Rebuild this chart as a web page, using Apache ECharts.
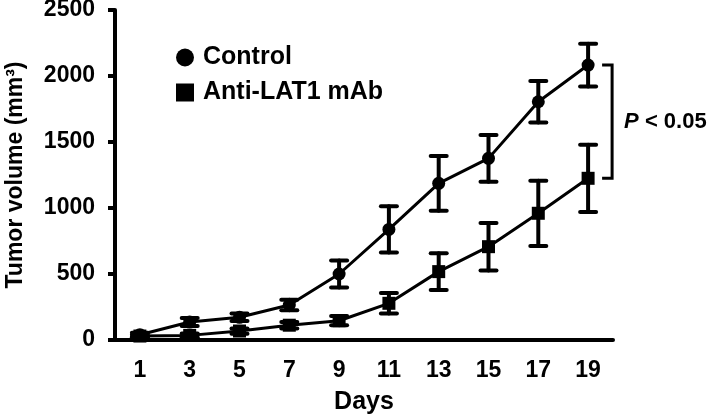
<!DOCTYPE html>
<html>
<head>
<meta charset="utf-8">
<script src="https://cdn.jsdelivr.net/npm/echarts@6/dist/echarts.min.js"></script>
<style>
html,body{margin:0;padding:0;background:#fff;}
#chart{width:709px;height:419px;}
</style>
</head>
<body>
<div id="chart"></div>
<script>
var days = ['1', '3', '5', '7', '9', '11', '13', '15', '17', '19'];
var controlMean = [40, 136, 172, 265, 500, 838, 1187, 1376, 1805, 2083];
var controlErr = [15, 30, 28, 40, 103, 175, 207, 177, 158, 162];
var antiMean = [30, 35, 68, 112, 146, 278, 518, 707, 960, 1225];
var antiErr = [10, 15, 20, 25, 35, 78, 139, 180, 247, 255];
var yTicks = [0, 500, 1000, 1500, 2000, 2500];

var FONT = '"Liberation Sans", Arial, Helvetica, sans-serif';

function errData(mean, err) {
  return mean.map(function (m, i) { return [i, m - err[i], m + err[i]]; });
}

function renderErr(params, api) {
  var lo = api.coord([api.value(0), api.value(1)]);
  var hi = api.coord([api.value(0), api.value(2)]);
  var half = 8;
  var st = { stroke: '#000', lineWidth: 4, lineCap: 'round' };
  return {
    type: 'group',
    children: [
      { type: 'line', shape: { x1: lo[0], y1: lo[1], x2: hi[0], y2: hi[1] }, style: st },
      { type: 'line', shape: { x1: lo[0] - half, y1: lo[1], x2: lo[0] + half, y2: lo[1] }, style: st },
      { type: 'line', shape: { x1: hi[0] - half, y1: hi[1], x2: hi[0] + half, y2: hi[1] }, style: st }
    ]
  };
}

var last = days.length - 1;

var chart = echarts.init(document.getElementById('chart'), null, { renderer: 'canvas' });
chart.setOption({
  animation: false,
  backgroundColor: '#fff',
  textStyle: { fontFamily: FONT },
  grid: { left: 115, right: 96, top: 10, bottom: 79, containLabel: false, outerBoundsMode: 'none' },
  legend: {
    orient: 'vertical',
    left: 171,
    top: 40,
    itemWidth: 18,
    itemHeight: 18,
    itemGap: 10,
    data: [
      { name: 'Control', icon: 'circle' },
      { name: 'Anti-LAT1 mAb', icon: 'rect' }
    ],
    textStyle: { fontSize: 25, fontWeight: 'bold', color: '#000', fontFamily: FONT, padding: [0, 0, 0, 4] }
  },
  xAxis: {
    type: 'category',
    data: days,
    boundaryGap: true,
    name: 'Days',
    nameLocation: 'middle',
    nameGap: 50,
    nameTextStyle: { fontSize: 25, fontWeight: 'bold', color: '#000', fontFamily: FONT },
    axisLine: { lineStyle: { color: '#000', width: 4 } },
    axisTick: { alignWithLabel: true, length: 8, lineStyle: { color: '#000', width: 4 } },
    axisLabel: { fontSize: 23, fontWeight: 'bold', color: '#000', margin: 19, fontFamily: FONT },
    splitLine: { show: false }
  },
  yAxis: {
    type: 'value',
    min: yTicks[0],
    max: yTicks[yTicks.length - 1],
    interval: yTicks[1] - yTicks[0],
    name: 'Tumor volume (mm\u00B3)',
    nameLocation: 'middle',
    nameGap: 88,
    nameTextStyle: { fontSize: 23, fontWeight: 'bold', color: '#000', fontFamily: FONT },
    axisLine: { show: true, lineStyle: { color: '#000', width: 4 } },
    axisTick: { show: true, length: 7, lineStyle: { color: '#000', width: 4 } },
    axisLabel: {
      fontSize: 23, fontWeight: 'bold', color: '#000', margin: 20, fontFamily: FONT,
      formatter: function (v) { return String(v); }
    },
    splitLine: { show: false }
  },
  series: [
    {
      name: 'Control',
      type: 'line',
      data: controlMean,
      symbol: 'circle',
      symbolSize: 13,
      itemStyle: { color: '#000' },
      lineStyle: { color: '#000', width: 3 },
      z: 5
    },
    {
      name: 'Anti-LAT1 mAb',
      type: 'line',
      data: antiMean,
      symbol: 'rect',
      symbolSize: 13,
      itemStyle: { color: '#000' },
      lineStyle: { color: '#000', width: 3 },
      z: 5
    },
    {
      name: 'ControlErr',
      type: 'custom',
      data: errData(controlMean, controlErr),
      renderItem: renderErr,
      z: 4,
      silent: true
    },
    {
      name: 'AntiErr',
      type: 'custom',
      data: errData(antiMean, antiErr),
      renderItem: renderErr,
      z: 4,
      silent: true
    },
    {
      name: 'Bracket',
      type: 'custom',
      data: [[last, controlMean[last], antiMean[last]]],
      silent: true,
      z: 6,
      renderItem: function (params, api) {
        var t = api.coord([api.value(0), api.value(1)]);
        var b = api.coord([api.value(0), api.value(2)]);
        var x = t[0] + 24;
        var arm = 10;
        var st = { stroke: '#000', lineWidth: 3, fill: null };
        return {
          type: 'group',
          children: [
            { type: 'polyline', shape: { points: [[x - arm, t[1]], [x, t[1]], [x, b[1]], [x - arm, b[1]]] }, style: st },
            {
              type: 'text',
              x: x + 12,
              y: (t[1] + b[1]) / 2,
              style: {
                text: '{i|P}{n| < 0.05}',
                verticalAlign: 'middle',
                align: 'left',
                rich: {
                  i: { fontSize: 22, fontWeight: 'bold', fontStyle: 'italic', fill: '#000', fontFamily: FONT },
                  n: { fontSize: 22, fontWeight: 'bold', fill: '#000', fontFamily: FONT }
                }
              }
            }
          ]
        };
      }
    }
  ]
});
</script>
</body>
</html>
